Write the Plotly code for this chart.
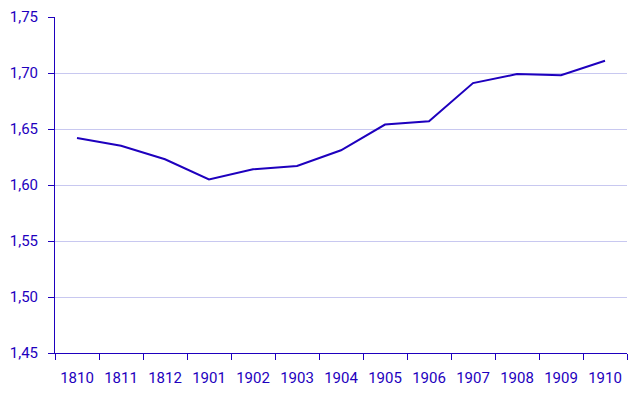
import plotly.graph_objects as go

years = ["1810", "1811", "1812", "1901", "1902", "1903", "1904", "1905", "1906", "1907", "1908", "1909", "1910"]
values = [1.642, 1.635, 1.623, 1.605, 1.614, 1.617, 1.631, 1.654, 1.657, 1.691, 1.699, 1.698, 1.711]
y_ticks = [1.45, 1.50, 1.55, 1.60, 1.65, 1.70, 1.75]
y_labels = ["1,45", "1,50", "1,55", "1,60", "1,65", "1,70", "1,75"]

blue = "#1E00BE"
fig = go.Figure(go.Scatter(x=years, y=values, mode="lines",
                           line=dict(color=blue, width=2), hoverinfo="x+y"))
fig.update_layout(
    width=643, height=395,
    margin=dict(l=55, r=16, t=17, b=42, autoexpand=False),
    paper_bgcolor="white", plot_bgcolor="white",
    font=dict(family="Roboto", size=15, color=blue),
    showlegend=False,
)
fig.update_xaxes(type="category", range=[-0.5, 12.5], tickson="boundaries",
                 ticks="outside", ticklen=6, tickcolor=blue, showline=True,
                 linecolor=blue, linewidth=1, showgrid=False, automargin=False,
                 ticklabelstandoff=11, tickfont=dict(size=15, color=blue))
fig.update_yaxes(range=[1.45, 1.75], tickvals=y_ticks, ticktext=y_labels,
                 ticks="outside", ticklen=6, tickcolor=blue, showline=True,
                 linecolor=blue, linewidth=1, gridcolor="#C8C8F0", gridwidth=1,
                 zeroline=False, automargin=False, ticklabelstandoff=7,
                 tickfont=dict(size=15, color=blue))
fig.write_html("out.html", config={"displayModeBar": False},
               post_script="document.body.style.margin='0';")
